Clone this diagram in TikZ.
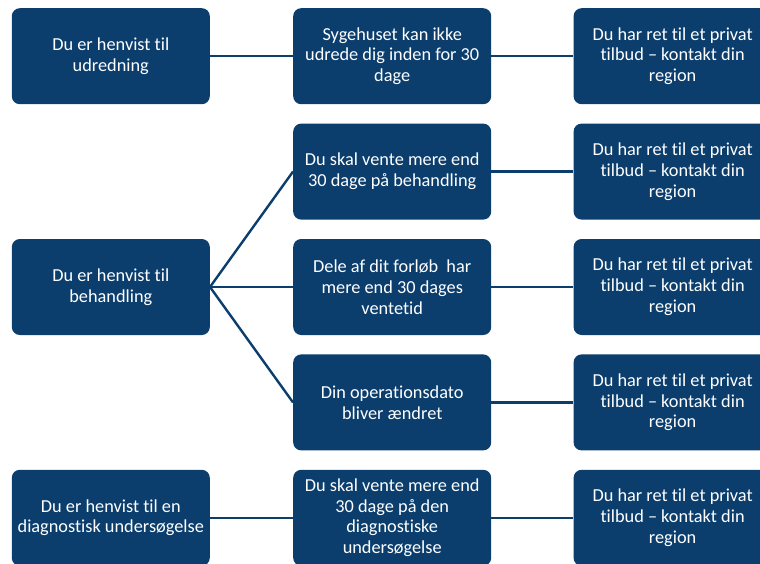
\documentclass[tikz,border=0pt]{standalone}
\usepackage{fontspec}
\setmainfont{Carlito}[Ligatures={TeX,NoCommon}]
\usetikzlibrary{positioning}
\definecolor{navy}{HTML}{0B3E6D}

\tikzset{
  box/.style={fill=navy, rounded corners=8pt, minimum width=198pt, minimum height=96pt,
    text=white, align=center, inner sep=0pt, font=\fontsize{18.3}{20.8}\selectfont},
  link/.style={draw=navy, line width=2.4pt}
}

\begin{document}
\begin{tikzpicture}[x=1pt,y=1pt]
  \useasboundingbox (0,0) rectangle (760,-563);

  % 1. midterste kolonne -- alle fem kasser under hinanden
  \node[box, anchor=north west] (m1) at (293,-8) {Sygehuset kan ikke\\udrede dig inden for 30\\dage};
  \node[box, below=19pt of m1] (m2) {Du skal vente mere end\\30 dage på behandling};
  \node[box, below=19pt of m2] (m3) {Dele af dit forløb\ \ har\\mere end 30 dages\\ventetid};
  \node[box, below=19pt of m3] (m4) {Din operationsdato\\bliver ændret};
  \node[box, below=19pt of m4] (m5) {Du skal vente mere end\\30 dage på den\\diagnostiske\\undersøgelse};

  % 2. venstre kolonne (henvisninger)
  \node[box, left=83pt of m1] (h_udr) {Du er henvist til\\udredning};
  \node[box, left=83pt of m3] (h_beh) {Du er henvist til\\behandling};
  \node[box, left=83pt of m5] (h_diag) {Du er henvist til en\\diagnostisk undersøgelse};

  % 3. højre kolonne (privat tilbud)
  \foreach \i in {1,...,5}
    \node[box, right=82pt of m\i] (p\i) {Du har ret til et privat\\tilbud – kontakt din\\region};

  % 4. forbindelser
  \draw[link] (h_udr) -- (m1);
  \draw[link] (h_beh.east) -- (m2.west);
  \draw[link] (h_beh.east) -- (m3.west);
  \draw[link] (h_beh.east) -- (m4.west);
  \draw[link] (h_diag) -- (m5);
  \foreach \i in {1,...,5}
    \draw[link] (m\i) -- (p\i);
\end{tikzpicture}
\end{document}
